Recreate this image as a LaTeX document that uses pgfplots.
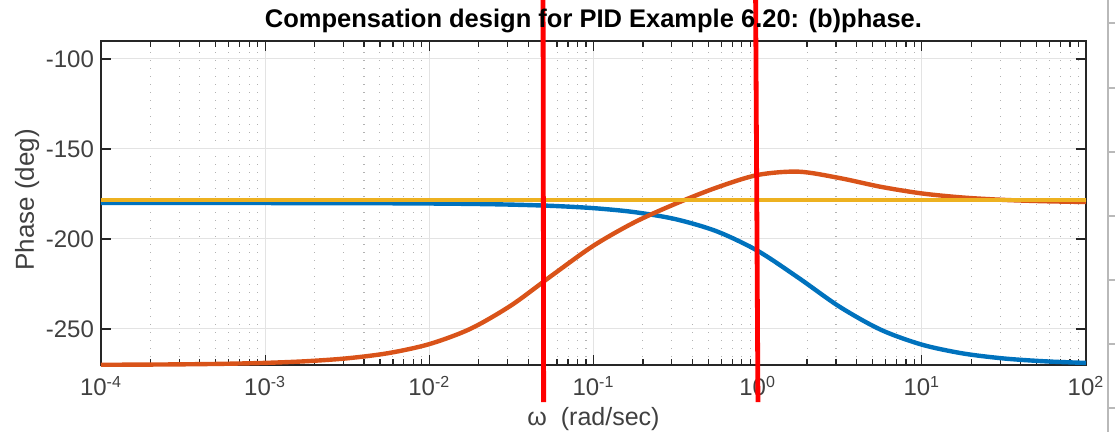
\documentclass[border=0pt]{standalone}
\usepackage{fontspec}
\setmainfont{Liberation Sans}
\usepackage{pgfplots}
\pgfplotsset{compat=1.18}

\definecolor{mblue}{RGB}{0,114,189}
\definecolor{morange}{RGB}{217,83,25}
\definecolor{myellow}{RGB}{237,177,32}
\definecolor{axgray}{RGB}{38,38,38}
\definecolor{lblgray}{RGB}{64,64,64}

\begin{document}
\begin{tikzpicture}
\begin{axis}[
  name=ax,
  scale only axis, width=492.5pt, height=162pt,
  xmode=log, log basis x=10,
  xmin=1e-4, xmax=1e2, ymin=-270, ymax=-90,
  xtick={1e-4,1e-3,1e-2,1e-1,1,10,100},
  xticklabels={10\textsuperscript{-4},10\textsuperscript{-3},10\textsuperscript{-2},10\textsuperscript{-1},10\textsuperscript{0},10\textsuperscript{1},10\textsuperscript{2}},
  minor xtick={2e-4,3e-4,4e-4,5e-4,6e-4,7e-4,8e-4,9e-4,
               2e-3,3e-3,4e-3,5e-3,6e-3,7e-3,8e-3,9e-3,
               0.02,0.03,0.04,0.05,0.06,0.07,0.08,0.09,
               0.2,0.3,0.4,0.5,0.6,0.7,0.8,0.9,
               2,3,4,5,6,7,8,9,
               20,30,40,50,60,70,80,90},
  ytick={-250,-200,-150,-100},
  yticklabels={-250,-200,-150,-100},
  minor y tick num=0,
  tick align=inside, major tick length=5pt, minor tick length=3pt,
  xmajorgrids, ymajorgrids, xminorgrids,
  major grid style={gray!22, line width=0.5pt},
  minor grid style={gray!60, line width=0.55pt, dash pattern=on 0.7pt off 3.3pt},
  axis line style={axgray, line width=0.6pt},
  tick style={axgray, line width=0.6pt},
  ticklabel style={font=\fontsize{12}{14}\selectfont, text=lblgray},
  xticklabel style={yshift=-2pt},
  title={Compensation design for PID Example 6.20: (b)phase.},
  title style={at={(axis description cs:0.5,1.006)}, anchor=base, font=\bfseries\fontsize{12.75}{14}\selectfont},
  xlabel={ω\ \ (rad/sec)},
  xlabel style={at={(axis description cs:0.5,-0.187)}, anchor=base, font=\fontsize{12.5}{14}\selectfont, text=lblgray},
  ylabel={Phase (deg)},
  ylabel style={at={(axis description cs:-0.075,0.51)}, anchor=center, font=\fontsize{13}{15}\selectfont, text=lblgray},
  clip=false,
]
% plant phase
\addplot[mblue, line width=2.2pt, smooth] coordinates {
(1e-4,-180.00) (1.778e-4,-180.01) (3.162e-4,-180.01) (5.623e-4,-180.02)
(1e-3,-180.03) (1.778e-3,-180.05) (3.162e-3,-180.09) (5.623e-3,-180.16)
(0.01,-180.29) (0.01778,-180.51) (0.03162,-180.91) (0.05623,-181.61)
(0.1,-182.86) (0.1778,-185.08) (0.3162,-188.99) (0.5623,-195.71)
(1,-206.57) (1.778,-221.64) (3.162,-237.69) (5.623,-250.42)
(10,-258.69) (17.78,-263.58) (31.62,-266.38) (56.23,-267.96) (100,-268.85)
};
% compensated phase
\addplot[morange, line width=2.2pt, smooth] coordinates {
(1e-4,-269.88) (1.778e-4,-269.79) (3.162e-4,-269.63) (5.623e-4,-269.34)
(1e-3,-268.83) (1.778e-3,-267.91) (3.162e-3,-266.29) (5.623e-3,-263.42)
(0.01,-258.40) (0.01778,-249.92) (0.03162,-236.79) (0.05623,-220.03)
(0.1,-203.72) (0.1778,-190.71) (0.3162,-180.42) (0.5623,-171.44)
(1,-164.43) (1.778,-162.60) (3.162,-166.15) (5.623,-171.01)
(10,-174.69) (17.78,-176.96) (31.62,-178.28) (56.23,-179.03) (100,-179.45)
};
% reference line
\addplot[myellow, line width=2.2pt] coordinates {(1e-4,-178.5) (100,-178.5)};
% hand-drawn markers
\addplot[red, line width=2.4pt] coordinates {(0.0493,-67.2) (0.0497,-290.6)};
\addplot[red, line width=2.4pt] coordinates {(0.972,-67.2) (1.004,-290.6)};
% window edge at the right
\draw[gray!55, line width=1.2pt] (axis description cs:1.0223,-0.21) -- (axis description cs:1.0223,1.13);
\draw[gray!55, line width=1pt] (axis description cs:1.0223,1.0556) -- (axis description cs:1.0300,1.0556);
\draw[gray!55, line width=1pt] (axis description cs:1.0223,0.855) -- (axis description cs:1.0300,0.855);
\draw[gray!55, line width=1pt] (axis description cs:1.0223,0.657) -- (axis description cs:1.0300,0.657);
\draw[gray!55, line width=1pt] (axis description cs:1.0223,0.460) -- (axis description cs:1.0300,0.460);
\draw[gray!55, line width=1pt] (axis description cs:1.0223,0.262) -- (axis description cs:1.0300,0.262);
\draw[gray!55, line width=1pt] (axis description cs:1.0223,0.0648) -- (axis description cs:1.0300,0.0648);
\draw[gray!55, line width=1pt] (axis description cs:1.0223,-0.1327) -- (axis description cs:1.0300,-0.1327);
\end{axis}
\pgfresetboundingbox
\path[use as bounding box] ([shift={(-50.5pt,-33.5pt)}]ax.south west) rectangle ++(557.5pt,216pt);
\end{tikzpicture}
\end{document}
